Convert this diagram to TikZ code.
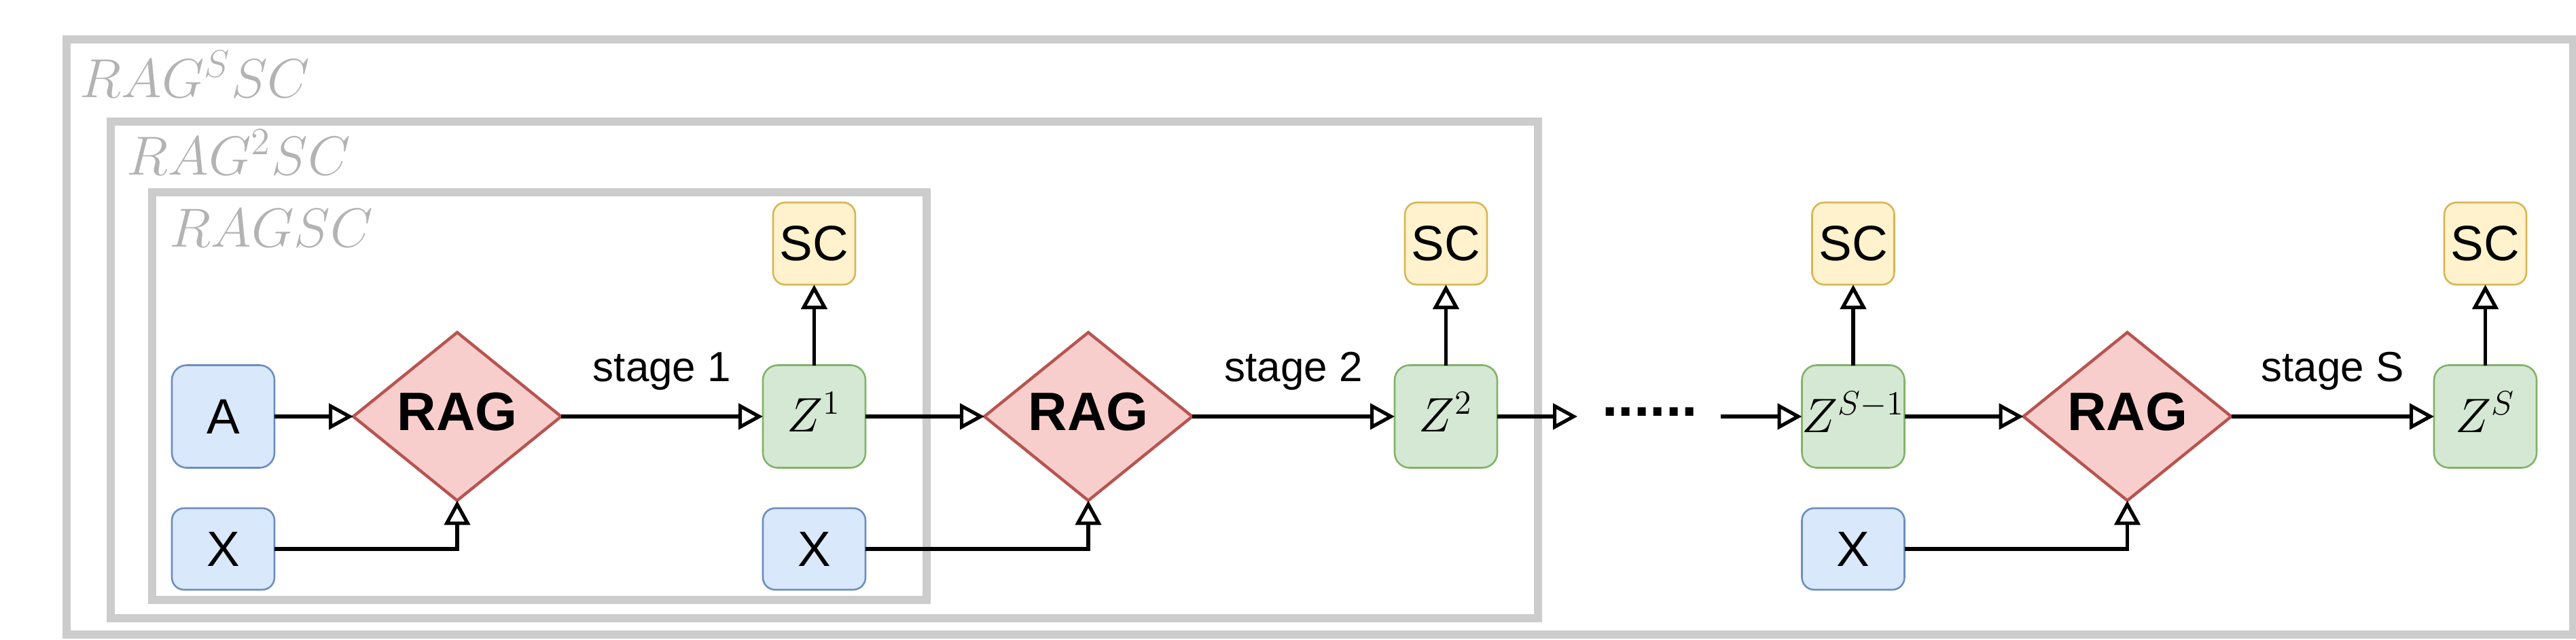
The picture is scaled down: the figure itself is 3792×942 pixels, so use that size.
\RequirePackage{fix-cm}
\documentclass[tikz,border=0pt]{standalone}
\usepackage{fontspec}
\newfontfamily\arialf{Liberation Sans}
\usetikzlibrary{arrows.meta,shapes.geometric,calc}
\definecolor{bfill}{HTML}{DAE8FC}
\definecolor{bdraw}{HTML}{6C8EBF}
\definecolor{rfill}{HTML}{F8CECC}
\definecolor{rdraw}{HTML}{B85450}
\definecolor{gfill}{HTML}{D5E8D4}
\definecolor{gdraw}{HTML}{82B366}
\definecolor{yfill}{HTML}{FFF2CC}
\definecolor{ydraw}{HTML}{D6B656}
\definecolor{framegray}{HTML}{CCCCCC}
\definecolor{flabel}{HTML}{B3B3B3}
\begin{document}
\begin{tikzpicture}[x=0.25pt,y=-0.25pt,
  box/.style={rectangle, rounded corners=5.5pt, line width=0.65pt,
    minimum width=37.75pt, minimum height=37.75pt, inner sep=0pt, outer sep=0pt,
    font=\arialf\fontsize{18.25pt}{22pt}\selectfont},
  inbox/.style={box, fill=bfill, draw=bdraw},
  xbox/.style={inbox, minimum height=30pt, rounded corners=4.5pt},
  zbox/.style={box, fill=gfill, draw=gdraw, font=\fontsize{17.8pt}{21pt}\selectfont, text depth=3.25pt},
  scbox/.style={box, fill=yfill, draw=ydraw, minimum width=30.25pt, minimum height=30.25pt, rounded corners=4.5pt},
  rag/.style={diamond, fill=rfill, draw=rdraw, line width=1.1pt, minimum width=76.5pt,
    minimum height=53pt, inner sep=0pt, outer sep=0pt,
    font=\arialf\bfseries\fontsize{19.9pt}{24pt}\selectfont, text depth=3.75pt},
  frm/.style={draw=framegray, line width=3pt},
  flab/.style={anchor=base west, inner sep=0pt, text=flabel, font=\fontsize{20.25pt}{24pt}\selectfont},
  conn/.style={line width=1.3pt, -{Triangle[open, length=9pt, width=9.5pt]}},
  stagelab/.style={anchor=base, inner sep=0pt, yshift=13pt, font=\arialf\fontsize{15.5pt}{19pt}\selectfont},
  dotslab/.style={anchor=base, inner sep=0pt, font=\arialf\bfseries\fontsize{21.1pt}{25pt}\selectfont}
]
\useasboundingbox (0,0) rectangle (3792,942);
% frames
\draw[frm] (97.5,58) rectangle (3788,934);
\draw[frm] (163,178.5) rectangle (2263.5,910);
\draw[frm] (223.5,283) rectangle (1363.5,883);
\node[flab] (l3) at (117,143) {$RAG^SSC$};
\node[flab] (l2) at (186,257) {$RAG^2SC$};
\node[flab] (l1) at (249,363) {$RAGSC$};
% stage 1
\node[inbox] (A) at (328.5,613) {A};
\node[xbox] (X1) at (328.5,808) {X};
\node[rag] (R1) at (673,613) {RAG};
\node[zbox] (Z1) at (1198.5,613) {$Z^1$};
\node[scbox] (SC1) at (1198.5,358.5) {SC};
% stage 2
\node[xbox] (X2) at (1198.5,808) {X};
\node[rag] (R2) at (1602,613) {RAG};
\node[zbox] (Z2) at (2128.5,613) {$Z^2$};
\node[scbox] (SC2) at (2128.5,358.5) {SC};
% dots
\coordinate (d1) at (2322,613);
\node[dotslab] (dots) at (2428.5,612) {......};
\coordinate (d2) at (2533,613);
% stage S
\node[zbox] (Zs1) at (2728,613) {$Z^{S-1}$};
\node[scbox] (SC3) at (2728,358.5) {SC};
\node[xbox] (X3) at (2728,808) {X};
\node[rag] (R3) at (3131.5,613) {RAG};
\node[zbox] (Zs) at (3658.5,613) {$Z^S$};
\node[scbox] (SC4) at (3658.5,358.5) {SC};
% connectors
\draw[conn] (A.east) -- (R1.west);
\draw[conn] (X1.east) -| (R1.south);
\draw[conn] (R1.east) -- node[stagelab] (s1) {stage 1} (Z1.west);
\draw[conn] (Z1.north) -- (SC1.south);
\draw[conn] (Z1.east) -- (R2.west);
\draw[conn] (X2.east) -| (R2.south);
\draw[conn] (R2.east) -- node[stagelab] (s2) {stage 2} (Z2.west);
\draw[conn] (Z2.north) -- (SC2.south);
\draw[conn] (Z2.east) -- (d1);
\draw[conn] (d2) -- (Zs1.west);
\draw[conn] (Zs1.north) -- (SC3.south);
\draw[conn] (Zs1.east) -- (R3.west);
\draw[conn] (X3.east) -| (R3.south);
\draw[conn] (R3.east) -- node[stagelab] (s3) {stage S} (Zs.west);
\draw[conn] (Zs.north) -- (SC4.south);
\end{tikzpicture}
\end{document}
